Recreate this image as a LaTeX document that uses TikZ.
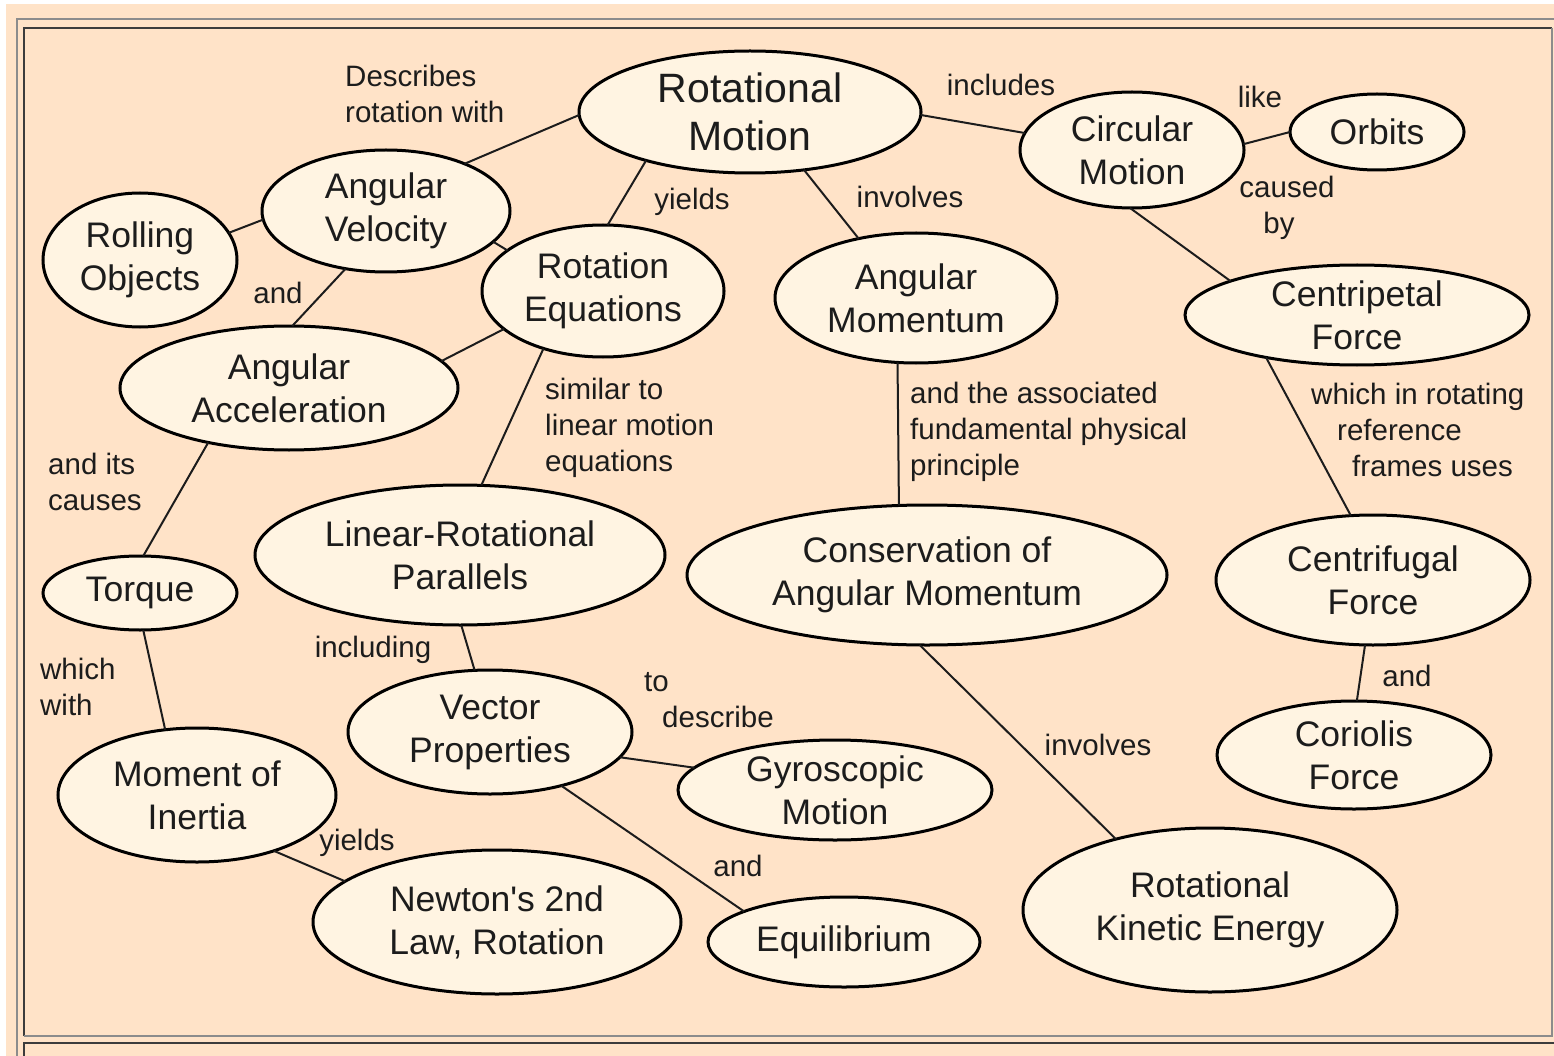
\documentclass[tikz,border=0pt]{standalone}
\usepackage{fontspec}
\setmainfont{Liberation Sans}[Ligatures=TeXOff]
\usetikzlibrary{shapes.geometric}
\definecolor{peach}{RGB}{255,227,200}
\definecolor{cream}{RGB}{255,244,226}
\definecolor{ink}{RGB}{28,28,28}
\definecolor{lightframe}{RGB}{140,140,140}
\definecolor{darkframe}{RGB}{60,60,60}
\tikzset{
  concept/.style={ellipse, draw=black, line width=3pt, fill=cream, inner sep=0pt, outer sep=0pt,
    align=center, text=ink, font=\fontsize{35.5}{43}\selectfont},
  bigconcept/.style={concept, font=\fontsize{41}{48}\selectfont},
  link/.style={draw=ink, line width=2pt},
  lbl/.style={text=ink, inner sep=0pt, font=\fontsize{29.5}{36}\selectfont},
  lframe/.style={draw=lightframe, line width=2.5pt},
  dframe/.style={draw=darkframe, line width=2.5pt}
}
\begin{document}
\begin{tikzpicture}[x=1pt,y=-1pt]
\useasboundingbox (0,0) rectangle (1554,1056);
\fill[white] (0,0) rectangle (1554,1056);
\fill[peach] (6,4) rectangle (1554,1056);
% frame
\draw[lframe] (17,1056) -- (17,19) -- (1554,19);
\draw[dframe] (24,1036) -- (24,28) -- (1552,28);
\draw[lframe] (24,1036) -- (1552,1036) -- (1552,28);
\draw[dframe] (1554,1043) -- (24,1043) -- (24,1056);

% concepts
\node[bigconcept, minimum width=342pt, minimum height=122pt] (rm) at (750,112) {Rotational\\Motion};
\node[concept, minimum width=224pt, minimum height=116pt] (cm) at (1132,150) {Circular\\Motion};
\node[concept, minimum width=174pt, minimum height=76pt] (orb) at (1377,132) {Orbits};
\node[concept, minimum width=248pt, minimum height=122pt] (av) at (386,211) {Angular\\Velocity};
\node[concept, minimum width=194pt, minimum height=134pt] (ro) at (140,260) {Rolling\\Objects};
\node[concept, minimum width=242pt, minimum height=132pt] (re) at (603,291) {Rotation\\Equations};
\node[concept, minimum width=282pt, minimum height=130pt] (am) at (916,298) {Angular\\Momentum};
\node[concept, minimum width=344pt, minimum height=100pt] (cp) at (1357,315) {Centripetal\\Force};
\node[concept, minimum width=338pt, minimum height=124pt] (aa) at (289,388) {Angular\\Acceleration};
\node[concept, minimum width=410pt, minimum height=140pt] (lr) at (460,555) {Linear-Rotational\\Parallels};
\node[concept, minimum width=480pt, minimum height=140pt] (cam) at (927,575) {Conservation of\\Angular Momentum};
\node[concept, minimum width=314pt, minimum height=130pt] (cf) at (1373,580) {Centrifugal\\Force};
\node[concept, minimum width=194pt, minimum height=74pt] (tq) at (140,593) {Torque};
\node[concept, minimum width=284pt, minimum height=124pt] (vp) at (490,732) {Vector\\Properties};
\node[concept, minimum width=314pt, minimum height=100pt] (gm) at (835,790) {Gyroscopic\\Motion};
\node[concept, minimum width=274pt, minimum height=108pt] (cor) at (1354,755) {Coriolis\\Force};
\node[concept, minimum width=278pt, minimum height=134pt] (moi) at (197,795) {Moment of\\Inertia};
\node[concept, minimum width=368pt, minimum height=144pt] (nl) at (497,922) {Newton's 2nd\\Law, Rotation};
\node[concept, minimum width=272pt, minimum height=90pt] (eq) at (844,942) {Equilibrium};
\node[concept, minimum width=374pt, minimum height=164pt] (rke) at (1210,910) {Rotational\\Kinetic Energy};

% connectors
\draw[link] (rm.181) -- (av.31);
\draw[link] (rm.359) -- (cm.171);
\draw[link] (cm.3.5) -- (orb.180);
\draw[link] (cm.268) -- (cp.165);
\draw[link] (rm.205) -- (re.86);
\draw[link] (rm.313.5) -- (am.134);
\draw[link] (av.184) -- (ro.17);
\draw[link] (av.344) -- (re.157);
\draw[link] (av.235) -- (aa.87);
\draw[link] (re.201.6) -- (aa.10);
\draw[link] (re.224.5) -- (lr.73);
\draw[link] (am.254) -- (cam.112.6);
\draw[link] (cp.205.6) -- (cf.109.5);
\draw[link] (cf.263.6) -- (cor.87);
\draw[link] (aa.214) -- (tq.85);
\draw[link] (tq.275) -- (moi.116);
\draw[link] (lr.271.6) -- (vp.104);
\draw[link] (vp.349) -- (gm.171);
\draw[link] (vp.323) -- (eq.163);
\draw[link] (moi.324.4) -- (nl.165.6);
\draw[link] (cam.264) -- (rke.143.4);

% labels
\node[lbl, anchor=west, align=left] (l1) at (345,94) {Describes\\rotation with};
\node[lbl] (l2) at (1001,85) {includes};
\node[lbl] (l3) at (1260,97) {like};
\node[lbl, align=center] (l4) at (1287,208) {caused\\\hspace*{-16pt}by};
\node[lbl] (l5) at (692,202) {yields};
\node[lbl] (l6) at (910,197) {involves};
\node[lbl] (l7) at (278,293) {and};
\node[lbl, anchor=west, align=left] (l8) at (545,428) {similar to\\linear motion\\equations};
\node[lbl, anchor=west, align=left] (l9) at (910,432) {and the associated\\fundamental physical\\principle};
\node[lbl, anchor=west, align=left] (l10) at (1311,430) {which in rotating\\\hspace*{26pt}reference\\\hspace*{41pt}frames uses};
\node[lbl] (l11) at (1407,676) {and};
\node[lbl, anchor=west, align=left] (l12) at (48,482) {and its\\causes};
\node[lbl, anchor=west, align=left] (l13) at (40,687) {which\\with};
\node[lbl] (l14) at (373,650) {including};
\node[lbl, anchor=west, align=left] (l15) at (644,700) {to\\\hspace*{18pt}describe};
\node[lbl] (l16) at (738,866) {and};
\node[lbl] (l17) at (357,843) {yields};
\node[lbl] (l18) at (1098,745) {involves};
\end{tikzpicture}
\end{document}
